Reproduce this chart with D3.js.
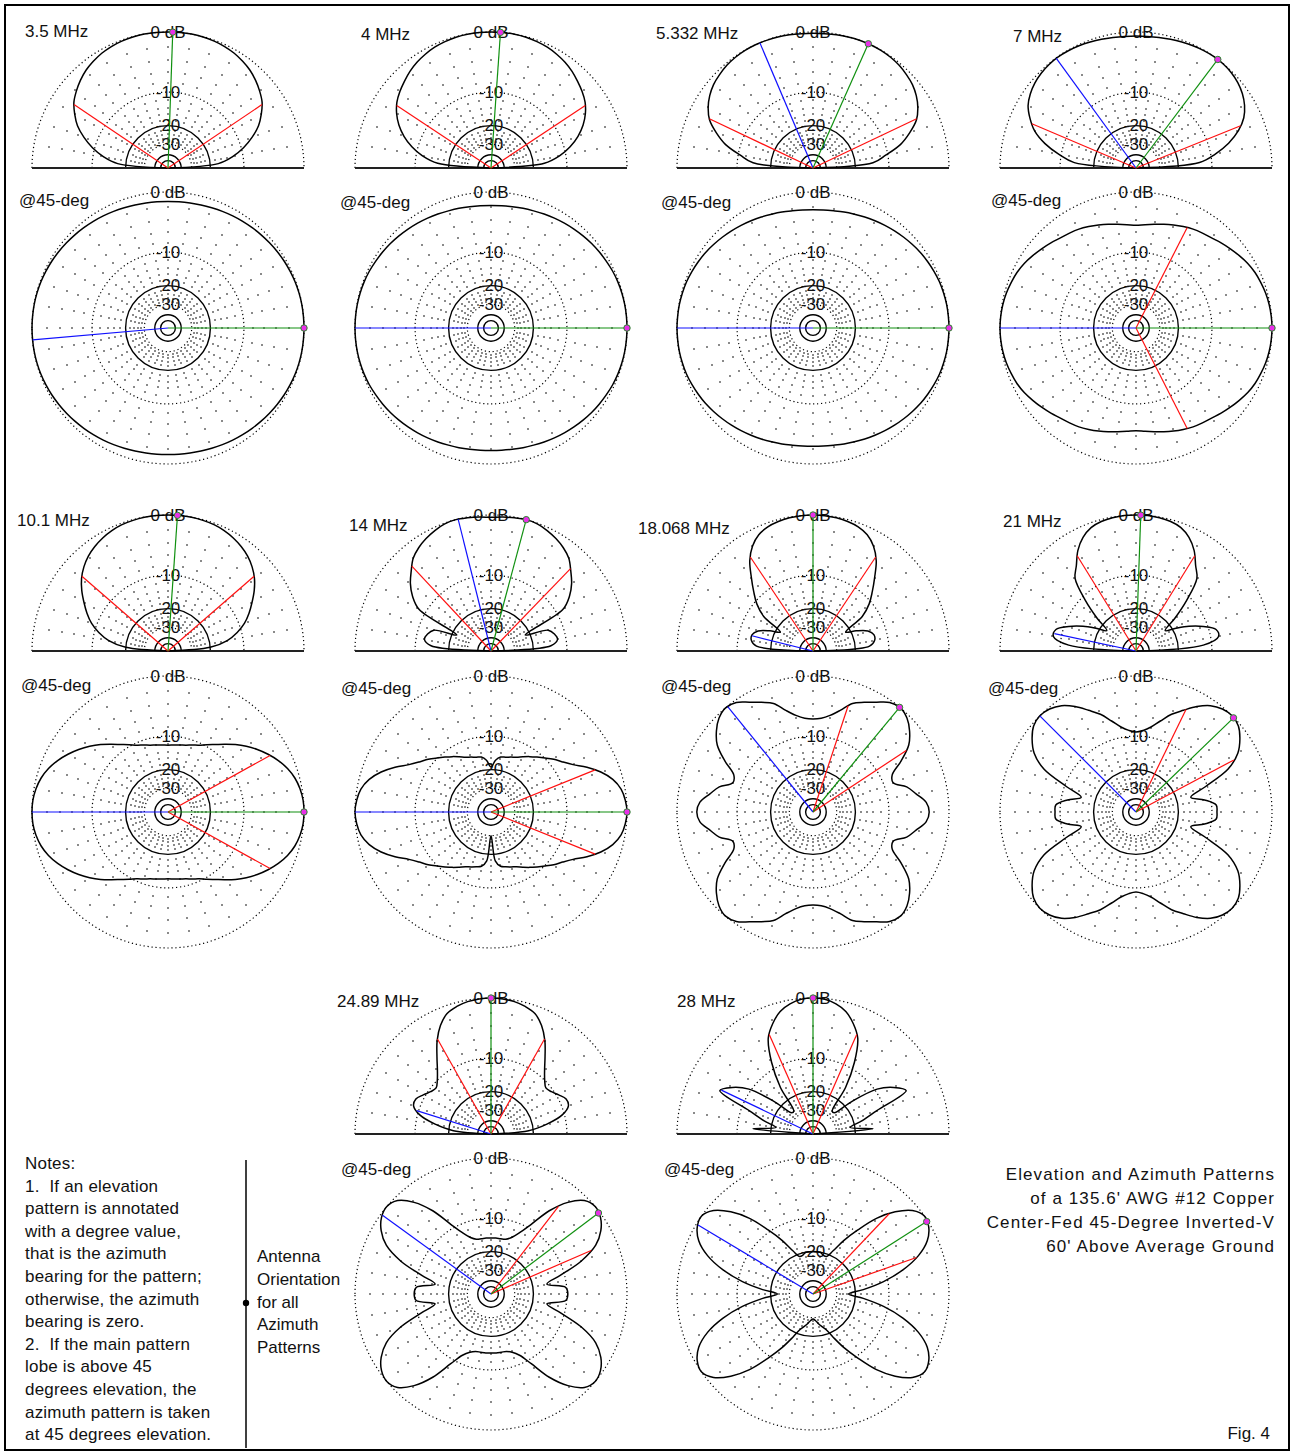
<!DOCTYPE html>
<html><head><meta charset="utf-8">
<script src="https://cdn.jsdelivr.net/npm/d3@7"></script>
<style>
html,body{margin:0;padding:0;background:#fff;}
svg text{font-family:"Liberation Sans",Arial,sans-serif;font-size:17px;fill:#111;}
</style></head><body>
<svg id="chart" width="1294" height="1456"></svg>
<script>
// ---------------- DATA ----------------
const bandLabels = ["3.5 MHz","4 MHz","5.332 MHz","7 MHz","10.1 MHz","14 MHz","18.068 MHz","21 MHz","24.89 MHz","28 MHz"];
const azLabel = "@45-deg";
const ringLabels = ["0 dB","-10","-20","-30"];
const ringLabelLevels = [0,-10,-20,-30];

// Elevation patterns, dB, every 5 deg from 0 deg (right horizon).
// 19 values = 0..90 (pattern symmetric about zenith); 37 values = 0..180.
const elev35   = [-99,-17,-12.5,-9.5,-7.2,-5.3,-4.0,-2.9,-2.2,-1.6,-1.1,-0.75,-0.45,-0.25,-0.12,-0.05,0,0,0];
const elev4    = [-99,-16,-11.5,-8.7,-6.6,-5.0,-3.8,-2.9,-2.3,-1.8,-1.3,-0.9,-0.6,-0.35,-0.2,-0.08,-0.02,0,0];
const elev5332 = [-99,-14,-10.5,-7,-4.8,-3.0,-2.0,-1.3,-0.8,-0.5,-0.25,-0.1,-0.02,0,0,-0.05,-0.1,-0.15,-0.15,
                  -0.15,-0.1,-0.05,-0.02,0,-0.02,-0.1,-0.25,-0.5,-0.8,-1.3,-2.0,-3.0,-4.8,-7,-10.5,-14,-99];
const elev7    = [-99,-13,-9,-6,-3.8,-2.3,-1.4,-0.8,-0.4,-0.15,-0.03,0,-0.05,-0.15,-0.25,-0.35,-0.45,-0.5,-0.5,
                  -0.5,-0.45,-0.35,-0.25,-0.15,-0.08,-0.05,-0.1,-0.25,-0.5,-0.9,-1.5,-2.6,-4.0,-6.3,-9.5,-13.5,-99];
const elev101  = [-99,-20,-14,-11,-8.8,-7.2,-5.8,-4.4,-3.2,-2.3,-1.6,-1.1,-0.7,-0.4,-0.2,-0.1,-0.03,0,0];
const elev14   = [-99,-14,-12,-12.5,-13.8,-22,-8.5,-6,-4.4,-3.2,-2.0,-1.3,-0.8,-0.4,-0.1,0,-0.1,-0.2,-0.3];
const elev18   = [-99,-15,-13.3,-13.2,-14.5,-18,-22,-14,-10.6,-8.3,-6.0,-3.6,-2.0,-1.0,-0.5,-0.25,-0.1,-0.02,0];
const elev21   = [-99,-12,-8.3,-8.5,-11,-14.5,-19,-23,-17,-11,-6.2,-4.6,-2.7,-1.4,-0.6,-0.25,-0.1,0,0];
const elev2489 = [-99,-22,-15,-10.5,-8.6,-8.5,-9.5,-10.5,-11,-10,-8.4,-6.3,-4.0,-2.2,-1.0,-0.5,-0.2,-0.05,0];
const elev28   = [-99,-14,-22,-17,-12,-4.8,-6.5,-9.5,-17,-26,-26,-15,-8.5,-4.3,-2.5,-1.2,-0.5,-0.1,0];

// Azimuth patterns at 45 deg elevation, dB, every 5 deg, quadrant 0..90 (upper) and 0..-90 (lower)
const az35   = [0,-0.01,-0.02,-0.05,-0.1,-0.17,-0.25,-0.35,-0.45,-0.55,-0.65,-0.75,-0.85,-0.95,-1.05,-1.12,-1.18,-1.22,-1.25];
const az4    = [0,-0.01,-0.03,-0.07,-0.13,-0.22,-0.35,-0.47,-0.6,-0.75,-0.9,-1.05,-1.2,-1.35,-1.5,-1.6,-1.7,-1.77,-1.8];
const az5332 = [0,-0.02,-0.04,-0.1,-0.17,-0.3,-0.45,-0.6,-0.8,-1.0,-1.2,-1.4,-1.6,-1.8,-2.0,-2.15,-2.3,-2.37,-2.4];
const az7    = [0,-0.03,-0.1,-0.22,-0.4,-0.6,-0.9,-1.3,-1.7,-2.1,-2.5,-2.75,-3.0,-3.35,-3.7,-4.05,-4.4,-4.65,-4.8];
const az101  = [0,-0.05,-0.25,-0.6,-1.15,-1.9,-2.8,-3.8,-4.9,-6.1,-7.4,-8.6,-9.6,-10.5,-11.1,-11.6,-11.9,-12.1,-12.2];
const az14   = [0,-0.15,-0.5,-1.3,-2.6,-4.3,-6.2,-7.6,-8.7,-9.9,-11.0,-12.0,-13.0,-13.9,-14.5,-15.0,-15.3,-16.5,-19];
const az14lo = [0,-0.15,-0.5,-1.3,-2.6,-4.3,-6.2,-7.6,-8.7,-9.9,-11.0,-12.0,-13.0,-13.9,-14.5,-15.0,-15.5,-17.5,-30];
const az18   = [-2.7,-3.1,-4.5,-5.8,-8.0,-7.6,-5.0,-2.6,-1.3,-0.4,0,-0.3,-1.2,-2.0,-2.8,-4.4,-5.6,-6.3,-6.5];
const az21   = [-8.9,-9.0,-11.5,-15,-10.5,-5,-2.5,-1.2,-0.3,0,-0.2,-0.8,-1.9,-3.3,-4.6,-6.3,-7.8,-8.7,-9.1];
const az2489 = [-9.8,-10.2,-15,-11,-6,-2.8,-1.2,-0.3,0,-0.5,-2.2,-5,-9,-12,-14,-15,-15.2,-15.2,-15.2];
const az2489lo=[-9.8,-10.2,-15,-11,-6,-2.8,-1.2,-0.3,0,-0.5,-2.2,-5,-9,-12,-13.5,-14.2,-14.3,-14.3,-14.3];
const az28   = [-23,-17,-11,-6.5,-3.3,-1.3,-0.3,0,-0.8,-2.7,-5.5,-9.5,-13.5,-18,-21,-21,-20,-20,-20];
const az28lo = [-23,-17,-11,-6.5,-3.3,-1.3,-0.3,0,-0.8,-2.7,-5.5,-9.5,-13.5,-18,-22,-24,-26,-28,-29];

// annotation directions (deg)
const elevGreen = [88,86,66,53,86,75,90,88,90,90];
const elevRed   = [[34,146],[33.5,146.5],[25.4,154.6],[22,157],[41,139],[46,133],[56.3,123.7],[58.3,121.7],[60.6,119.4],[66.3,113.7]];
const elevBlue  = [null,null,113,126,null,104,166,168,162.5,154.4];
const azGreen   = [0,0,0,0,0,0,50.4,44,37,32.5];
const azRed     = [[],[],[],[63,297],[29,331],[22,338],[33.4,71.7],[28,64],[23.5,52.4],[19.4,46.5]];
const azBlue    = [185,180,180,180,180,180,129,135,144,149];

const elevData = [elev35,elev4,elev5332,elev7,elev101,elev14,elev18,elev21,elev2489,elev28];
const azData = [[az35],[az4],[az5332],[az7],[az101],[az14,az14lo],[az18],[az21],[az2489,az2489lo],[az28,az28lo]];

const notesLines = ["Notes:","1.  If an elevation","pattern is annotated","with a degree value,","that is the azimuth",
  "bearing for the pattern;","otherwise, the azimuth","bearing is zero.","2.  If the main pattern","lobe is above 45",
  "degrees elevation, the","azimuth pattern is taken","at 45 degrees elevation."];
const orientLines = ["Antenna","Orientation","for all","Azimuth","Patterns"];
const titleLines = ["Elevation and Azimuth Patterns","of a 135.6' AWG #12 Copper","Center-Fed 45-Degree Inverted-V","60' Above Average Ground"];
const figLabel = "Fig. 4";

// ---------------- LAYOUT ----------------
const R = 136;
const colX = [168,491,813,1136];
const elevBaseY = [168,651,1134];
const azCenterY = [328,812,1294];
const slots = [[0,0],[1,0],[2,0],[3,0],[0,1],[1,1],[2,1],[3,1],[1,2],[2,2]];
const freqPos = [[25,37],[361,40],[656,39],[1013,42],[17,526],[349,531],[638,534],[1003,527],[337,1007],[677,1007]];
const azLabPos = [[19,206],[340,208],[661,208],[991,206],[21,691],[341,694],[661,692],[988,694],[341,1175],[664,1175]];

// ARRL log-periodic radial scale: r = R * 0.89^(-dB/2)  ==  R * P^0.253 (P = power ratio)
const rScale = d3.scalePow().exponent(0.25305).domain([0,1]).range([0,R]).clamp(true);
const dbToR = db => rScale(Math.pow(10, db/10));
const angleScale = d3.scaleLinear().domain([0,360]).range([Math.PI/2, Math.PI/2 - 2*Math.PI]);

function elevSeries(v){
  const full = v.length === 19 ? v.concat(v.slice(0,18).reverse()) : v;
  return full.map((db,i)=>({a:i*5, db}));
}
function azSeries(up, low){
  low = low || up;
  const out = [];
  for (let a=0; a<360; a+=5){
    let db;
    if (a<=90) db = up[a/5];
    else if (a<=180) db = up[(180-a)/5];
    else if (a<=270) db = low[(a-180)/5];
    else db = low[(360-a)/5];
    out.push({a, db});
  }
  return out;
}
function dbAt(series, a, closed){
  if (closed){ a = ((a%360)+360)%360; }
  const n = series.length;
  for (let i=0;i<n;i++){
    const p = series[i], q = closed ? series[(i+1)%n] : series[i+1];
    if (!q) return p.db;
    const qa = (closed && i===n-1) ? 360 : q.a;
    if (a>=p.a && a<=qa){ const t=(a-p.a)/(qa-p.a||1); return p.db + t*(q.db-p.db); }
  }
  return series[n-1].db;
}

const svg = d3.select("#chart");
svg.append("rect").attr("x",5).attr("y",5).attr("width",1284).attr("height",1445)
  .attr("fill","none").attr("stroke","#000").attr("stroke-width",2);

const ringStyles = [
  {db:0, dash:"1.2,2.8", w:1.2},
  {db:-10, dash:"1.2,2.8", w:1.2},
  {db:-20, dash:null, w:1.4},
  {db:-30, dash:"1.2,2.8", w:1.2},
  {db:-40, dash:null, w:1.4},
  {db:-50, dash:null, w:1.4}
];
const dotLevels = d3.range(-2,-30,-2).filter(v=>v!==-10 && v!==-20);

function drawGrid(g, half){
  const spokes = half ? d3.range(10,180,10) : d3.range(0,360,10);
  const dots = [];
  spokes.forEach(a => dotLevels.forEach(db => dots.push(d3.pointRadial(angleScale(a), dbToR(db)))));
  g.append("g").selectAll("rect").data(dots).join("rect")
    .attr("x",d=>Math.round(d[0])-0.7).attr("y",d=>Math.round(d[1])-0.7)
    .attr("width",1.4).attr("height",1.4).attr("fill","#111");
  ringStyles.forEach(rs=>{
    const r = dbToR(rs.db);
    const p = half ? `M${-r},0 A${r},${r} 0 0 1 ${r},0` : `M${-r},0 A${r},${r} 0 1 1 ${r},0 A${r},${r} 0 1 1 ${-r},0`;
    g.append("path").attr("d",p).attr("fill","none").attr("stroke","#000")
      .attr("stroke-width",rs.w).attr("stroke-dasharray",rs.dash);
  });
  if (half){
    g.append("line").attr("x1",-R).attr("x2",R).attr("y1",0).attr("y2",0)
      .attr("stroke","#222").attr("stroke-width",2);
  }
  ringLabelLevels.forEach((db,i)=>{
    g.append("text").attr("x",0).attr("y",-dbToR(db)).attr("text-anchor","middle")
      .attr("dominant-baseline","central").text(ringLabels[i]);
  });
}

function ray(g, series, a, color, closed, marker){
  const db = dbAt(series, a, closed);
  const [x,y] = d3.pointRadial(angleScale(a), dbToR(db));
  g.append("line").attr("x1",0).attr("y1",0).attr("x2",x).attr("y2",y)
    .attr("stroke",color).attr("stroke-width",1.2);
  if (marker){
    g.append("circle").attr("cx",x).attr("cy",y).attr("r",3.2)
      .attr("fill","#e830e8").attr("stroke","#2a8a2a").attr("stroke-width",1);
  }
}

const lineOpen = d3.lineRadial().angle(d=>angleScale(d.a)).radius(d=>dbToR(d.db)).curve(d3.curveCatmullRom.alpha(0.5));
const lineClosed = d3.lineRadial().angle(d=>angleScale(d.a)).radius(d=>dbToR(d.db)).curve(d3.curveCatmullRomClosed.alpha(0.5));

bandLabels.forEach((lab,i)=>{
  const [c,row] = slots[i];
  const cx = colX[c];
  // elevation
  const ge = svg.append("g").attr("transform",`translate(${cx},${elevBaseY[row]})`);
  drawGrid(ge, true);
  const es = elevSeries(elevData[i]);
  ge.append("path").attr("d",lineOpen(es)).attr("fill","none").attr("stroke","#000").attr("stroke-width",1.5);
  elevRed[i].forEach(a=>ray(ge, es, a, "#ff1010", false));
  if (elevBlue[i]!==null) ray(ge, es, elevBlue[i], "#1010ff", false);
  ray(ge, es, elevGreen[i], "#109010", false, true);
  svg.append("text").attr("x",freqPos[i][0]).attr("y",freqPos[i][1]).text(lab);

  // azimuth
  const ga = svg.append("g").attr("transform",`translate(${cx},${azCenterY[row]})`);
  drawGrid(ga, false);
  const as = azSeries(azData[i][0], azData[i][1]);
  ga.append("path").attr("d",lineClosed(as)).attr("fill","none").attr("stroke","#000").attr("stroke-width",1.5);
  azRed[i].forEach(a=>ray(ga, as, a, "#ff1010", true));
  ray(ga, as, azBlue[i], "#1010ff", true);
  ray(ga, as, azGreen[i], "#109010", true, true);
  svg.append("text").attr("x",azLabPos[i][0]).attr("y",azLabPos[i][1]).text(azLabel);
});

// Notes
notesLines.forEach((t,i)=>{
  svg.append("text").attr("x",25).attr("y",1169 + i*22.6).style("white-space","pre")
    .style("letter-spacing","0.2px").text(t);
});
svg.append("line").attr("x1",246).attr("x2",246).attr("y1",1160).attr("y2",1448).attr("stroke","#000").attr("stroke-width",1.5);
svg.append("circle").attr("cx",246).attr("cy",1303).attr("r",3.2).attr("fill","#000");
orientLines.forEach((t,i)=>{
  svg.append("text").attr("x",257).attr("y",1262 + i*22.75).text(t);
});
titleLines.forEach((t,i)=>{
  svg.append("text").attr("x",1275).attr("y",1180 + i*24).attr("text-anchor","end")
    .style("letter-spacing","1.1px").text(t);
});
svg.append("text").attr("x",1270).attr("y",1439).attr("text-anchor","end").text(figLabel);
</script></body></html>
